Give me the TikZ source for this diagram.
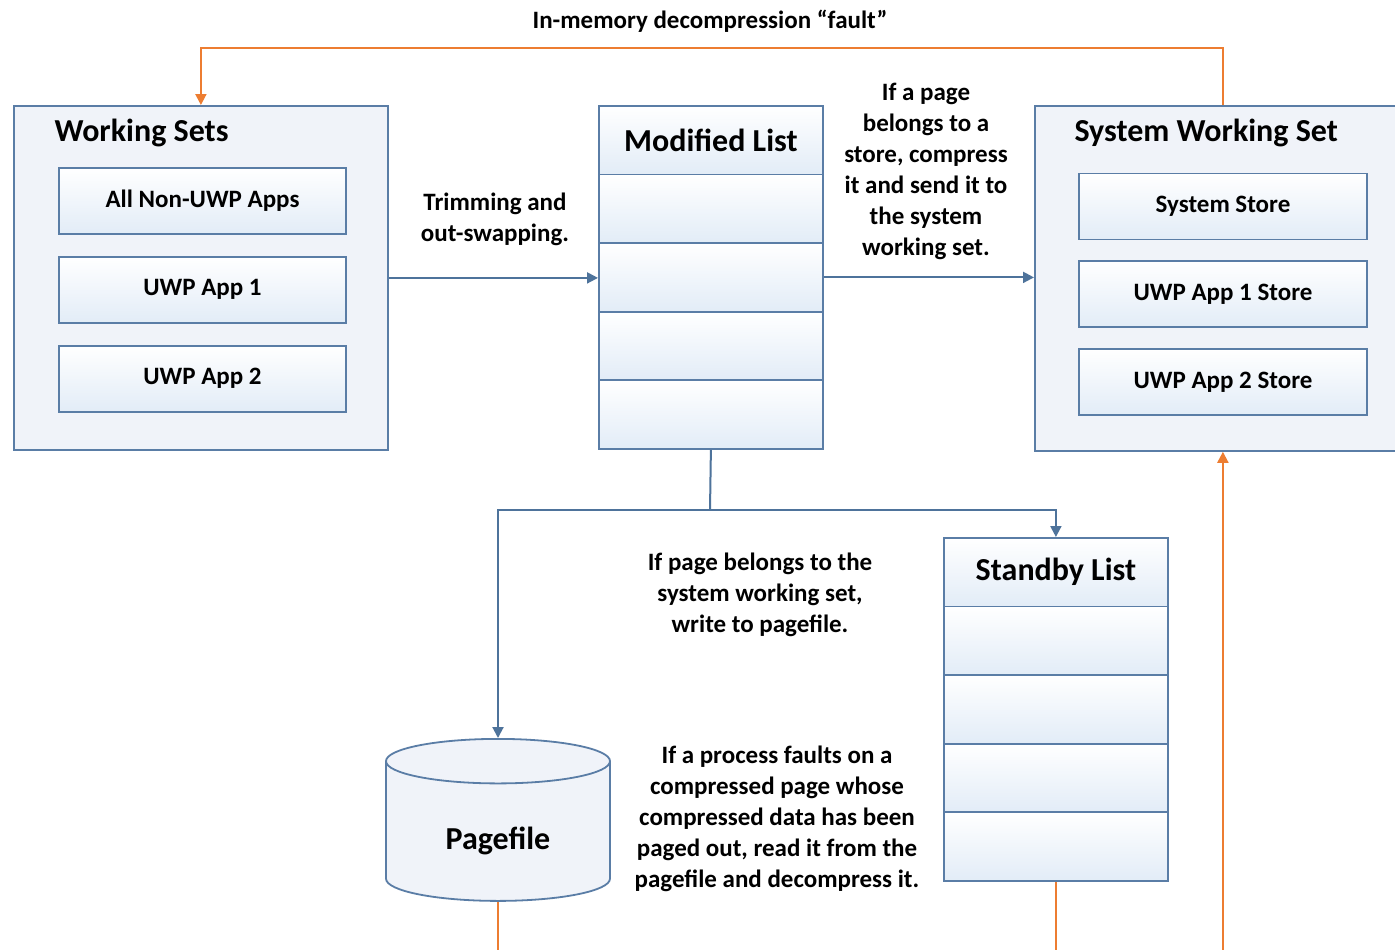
\documentclass[tikz,border=0pt]{standalone}
\usepackage{fontspec}
\setmainfont{Carlito}
\usetikzlibrary{positioning,arrows.meta,shapes.geometric}
\definecolor{boxline}{HTML}{5A7DA6}
\definecolor{boxfill}{HTML}{F0F3F9}
\definecolor{cellfill}{HTML}{E2ECF7}
\definecolor{flow}{HTML}{4E739B}
\definecolor{fault}{HTML}{ED7D31}
\begin{document}
\begin{tikzpicture}[x=1pt,y=-1pt,
    group/.style={draw=boxline,line width=1.8pt,fill=boxfill,inner sep=0pt},
    item/.style={draw=boxline,line width=1.8pt,top color=white,bottom color=cellfill,
                 minimum width=287,minimum height=66,font=\fontsize{25}{28}\selectfont\bfseries},
    cell/.style={draw=boxline,line width=1.8pt,top color=white,bottom color=cellfill,
                 minimum width=224,minimum height=68.6,inner sep=0pt},
    heading/.style={font=\fontsize{32}{36}\selectfont\bfseries},
    note/.style={align=center,font=\fontsize{25}{31}\selectfont\bfseries},
    flowline/.style={draw=flow,line width=2pt},
    faultline/.style={draw=fault,line width=2pt},
    tip/.style={-{Triangle[width=11pt,length=11pt]}}]
    \clip (0,0) rectangle (1395,950);
    \fill[white] (0,0) rectangle (1395,950);
    \node (ws) [group,minimum width=374,minimum height=344,anchor=north west] at (13,105) {};
    \node [heading,anchor=west] at (51,133) {Working Sets};
    \node (nonuwp) [item] at (202.5,201) {All Non-UWP Apps};
    \node (app1) [item,below=21pt of nonuwp] {UWP App 1};
    \node (app2) [item,below=21pt of app1] {UWP App 2};
    \node (sws) [group,minimum width=376,minimum height=345,anchor=north west] at (1034,105) {};
    \node [heading,anchor=west] at (1071,133) {System Working Set};
    \node (sysstore) [item,minimum width=288] at (1223,206.5) {System Store};
    \node (store1) [item,minimum width=288,below=20pt of sysstore] {UWP App 1 Store};
    \node (store2) [item,minimum width=288,below=20pt of store1] {UWP App 2 Store};
    \node (mod) [group,minimum width=224,minimum height=343,anchor=north west] at (598,105) {};
    \node (modhead) [cell,heading,anchor=north] at (mod.north) {Modified List};
    \foreach \k in {1,...,4}
        \node [cell,anchor=north] at ([yshift=-68.6*\k]mod.north) {};
    \node (standby) [group,minimum width=224,minimum height=343,anchor=north west] at (943,537) {};
    \node (sbhead) [cell,heading,anchor=north] at (standby.north) {Standby List};
    \foreach \k in {1,...,4}
        \node [cell,anchor=north] at ([yshift=-68.6*\k]standby.north) {};
    \node (pagefile) [draw=boxline,line width=1.8pt,fill=boxfill,cylinder,shape border rotate=90,
        aspect=0.4,minimum width=224,minimum height=162,text height=36pt,anchor=north,heading] at (498,738) {Pagefile};
    \coordinate (split) at (710,510);
    \coordinate (floor) at (0,960);
    \draw[flowline,tip] (ws.east) -- (ws.east -| mod.west);
    \draw[flowline,tip] (mod.east) -- (mod.east -| sws.west);
    \draw[flowline] (mod.south) -- (split);
    \draw[flowline,tip] (split) -| (pagefile.north);
    \draw[flowline,tip] (split) -| (standby.north);
    \draw[faultline,tip] (sws.north) -- ++(0,-57) -| (ws.north);
    \draw[faultline] (pagefile.south) -- (pagefile.south |- floor);
    \draw[faultline] (standby.south) -- (standby.south |- floor);
    \draw[faultline,tip] (sws.south |- floor) -- (sws.south);
    \node (faultlbl) [note,font=\fontsize{25}{28}\selectfont\bfseries] at (710,21) {In-memory decompression “fault”};
    \node (trimlbl) [note] at (495,219) {Trimming and\\out-swapping.};
    \node (storelbl) [note] at (926,171) {If a page\\belongs to a\\store, compress\\it and send it to\\the system\\working set.};
    \node (writelbl) [note] at (760,595) {If page belongs to the\\system working set,\\write to pagefile.};
    \node (readlbl) [note] at (777,819) {If a process faults on a\\compressed page whose\\compressed data has been\\paged out, read it from the\\pagefile and decompress it.};
\end{tikzpicture}
\end{document}
